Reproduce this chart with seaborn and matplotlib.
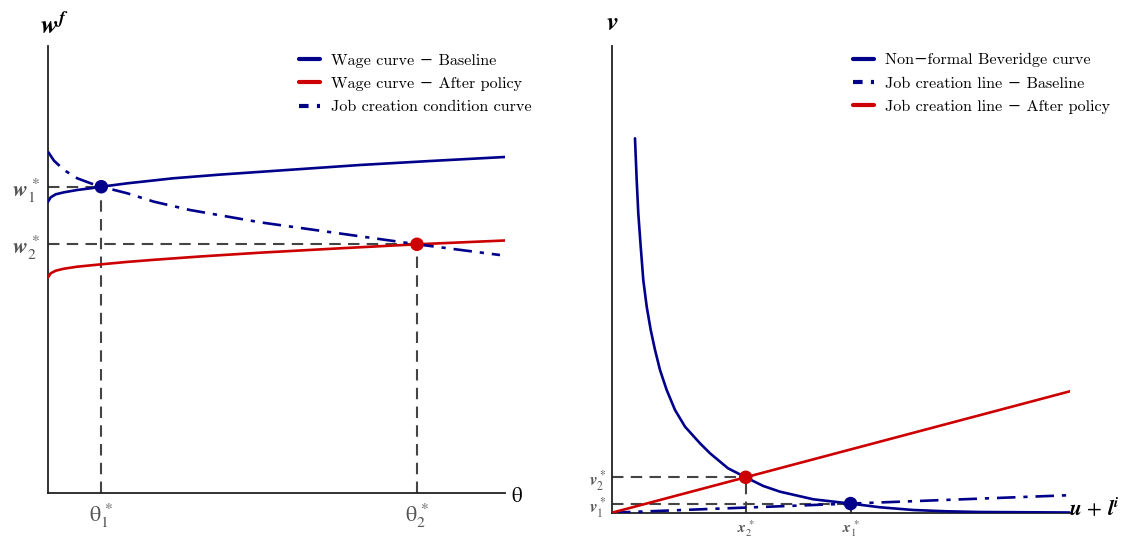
import matplotlib
matplotlib.use("Agg")
import matplotlib.pyplot as plt
from matplotlib.lines import Line2D
import seaborn as sns

# ---------------- data (arbitrary 0-100 units) ----------------
# Left panel: wage curves and job creation condition curve
theta_base = [0, 0.59, 1.68, 3.50, 6.41, 9.34, 11.66, 17.35, 23.19, 27.35, 37.64,
              50.77, 68.27, 83.59, 100]
wage_base = [65.17, 66.15, 66.82, 67.27, 67.79, 68.17, 68.52, 69.28, 69.93, 70.40,
             71.23, 72.15, 73.38, 74.27, 75.17]

theta_after = [0, 0.59, 1.68, 3.50, 6.41, 11.66, 17.35, 23.19, 33.26, 46.39, 63.89,
               80.74, 100]
wage_after = [48.25, 49.15, 49.73, 50.18, 50.63, 51.16, 51.70, 52.17, 52.91, 53.76,
              54.74, 55.64, 56.49]

theta_jc = [0, 1.31, 3.50, 6.41, 9.34, 11.66, 17.35, 23.19, 31.07, 46.39, 61.05,
            80.74, 98.9]
wage_jc = [76.35, 74.34, 72.26, 70.40, 69.28, 68.52, 67.05, 65.17, 63.31, 60.56,
           58.46, 55.64, 53.24]

theta_eq = [11.66, 80.74]
wage_eq = [68.52, 55.64]
theta_ticklabels = [r'$\mathrm{θ}_1^{\,*}$', r'$\mathrm{θ}_2^{\,*}$']
wage_ticklabels = [r'$\mathbfit{w}_1^{\,*}$', r'$\mathbfit{w}_2^{\,*}$']

# Right panel: Beveridge curve and job creation lines
x_bev = [5.02, 5.39, 5.74, 6.27, 6.83, 7.58, 8.45, 9.39, 10.48, 11.94, 13.76, 15.94,
         19.21, 21.40, 25.33, 29.19, 33.03, 36.68, 43.95, 52.1, 58.52, 65.79, 73.08,
         80.35, 100]
v_bev = [80.17, 71.24, 64.11, 56.96, 49.83, 44.11, 39.14, 34.86, 30.56, 26.27, 21.99,
         18.42, 14.86, 12.72, 9.51, 7.58, 5.72, 4.50, 2.87, 1.95, 1.16, 0.58, 0.30,
         0.15, 0.04]
x_line = [0, 100]
v_jc_base = [0, 3.75]
v_jc_after = [0, 26.0]

x_eq = [52.1, 29.19]
v_eq = [1.95, 7.58]
x_ticklabels = [r'$\mathbfit{x}_1^{\,*}$', r'$\mathbfit{x}_2^{\,*}$']
v_ticklabels = [r'$\mathbfit{v}_1^{\,*}$', r'$\mathbfit{v}_2^{\,*}$']

# ---------------- style ----------------
sns.set_theme(style="white")
plt.rcParams['font.family'] = ['cmr10', 'DejaVu Serif']
plt.rcParams['mathtext.fontset'] = 'stix'
plt.rcParams['axes.unicode_minus'] = False

NAVY = '#00008B'
RED = '#CC0000'
GREY = '#444444'
TICKGREY = '#555555'

W, H = 1122, 540
fig = plt.figure(figsize=(W / 100, H / 100), dpi=100)
axL = fig.add_axes([48 / W, (H - 493) / H, 457 / W, 447 / H])
axR = fig.add_axes([612 / W, (H - 512.7) / H, 458 / W, 467 / H])

LW = 1.9
DASHDOT = (0, (7, 3, 1.6, 3))
REFDASH = (0, (5.5, 3.5))
LEGDASH = (0, (2.3, 2.0))

for ax in (axL, axR):
    for s in ('top', 'right'):
        ax.spines[s].set_visible(False)
    for s in ('left', 'bottom'):
        ax.spines[s].set_color('#222222')
        ax.spines[s].set_linewidth(1.3)

# ---------------- left panel ----------------
for t, w in zip(theta_eq, wage_eq):
    axL.plot([0, t], [w, w], color=GREY, lw=1.5, linestyle=REFDASH, zorder=1)
    axL.plot([t, t], [0, w], color=GREY, lw=1.5, linestyle=REFDASH, zorder=1)

sns.lineplot(x=theta_base, y=wage_base, ax=axL, color=NAVY, linewidth=LW,
             sort=False, estimator=None, zorder=3)
sns.lineplot(x=theta_after, y=wage_after, ax=axL, color=RED, linewidth=LW,
             sort=False, estimator=None, zorder=3)
sns.lineplot(x=theta_jc, y=wage_jc, ax=axL, color=NAVY, linewidth=LW,
             sort=False, estimator=None, linestyle=DASHDOT, zorder=3)
sns.scatterplot(x=theta_eq, y=wage_eq, ax=axL, hue=[0, 1], palette=[NAVY, RED],
                s=95, linewidth=0, legend=False, zorder=5)

axL.set_xlim(0, 100)
axL.set_ylim(0, 100)
axL.set_xlabel('')
axL.set_ylabel('')
axL.tick_params(axis='both', length=4, width=1.5, color=GREY, direction='out', pad=2)
axL.set_xticks(theta_eq)
axL.set_xticklabels(theta_ticklabels, fontsize=16, color=TICKGREY)
axL.set_yticks(wage_eq)
axL.set_yticklabels(wage_ticklabels, fontsize=16, color=TICKGREY)

axL.text(0.013, 1.045, r'$\mathbfit{w}^{\mathbfit{f}}$', transform=axL.transAxes,
         fontsize=19, ha='center', va='center', color='black')
axL.text(1.013, -0.009, 'θ', transform=axL.transAxes, fontsize=15,
         ha='left', va='center', color='black', family='STIXGeneral')

hL = [Line2D([], [], color=NAVY, lw=3),
      Line2D([], [], color=RED, lw=3),
      Line2D([], [], color=NAVY, lw=3, linestyle=LEGDASH)]
axL.legend(hL, ['Wage curve − Baseline', 'Wage curve − After policy',
                'Job creation condition curve'],
           loc='upper left', bbox_to_anchor=(0.55, 0.983), frameon=False,
           fontsize=11.6, handlelength=1.3, handletextpad=0.65,
           labelspacing=0.55, borderpad=0, borderaxespad=0, labelcolor='black')

# ---------------- right panel ----------------
for xv, vv in zip(x_eq, v_eq):
    axR.plot([0, xv], [vv, vv], color=GREY, lw=1.5, linestyle=REFDASH, zorder=1)
    axR.plot([xv, xv], [0, vv], color=GREY, lw=1.5, linestyle=REFDASH, zorder=1)

sns.lineplot(x=x_bev, y=v_bev, ax=axR, color=NAVY, linewidth=LW,
             sort=False, estimator=None, zorder=3)
sns.lineplot(x=x_line, y=v_jc_base, ax=axR, color=NAVY, linewidth=LW,
             sort=False, estimator=None, linestyle=DASHDOT, zorder=3)
sns.lineplot(x=x_line, y=v_jc_after, ax=axR, color=RED, linewidth=LW,
             sort=False, estimator=None, zorder=3)
sns.scatterplot(x=x_eq, y=v_eq, ax=axR, hue=[0, 1], palette=[NAVY, RED],
                s=95, linewidth=0, legend=False, zorder=5)

axR.set_xlim(0, 100)
axR.set_ylim(0, 100)
axR.set_xlabel('')
axR.set_ylabel('')
axR.tick_params(axis='both', length=3, width=1.5, color=GREY, direction='out', pad=1)
axR.set_xticks(x_eq)
axR.set_xticklabels(x_ticklabels, fontsize=11, color=TICKGREY)
axR.set_yticks(v_eq)
axR.set_yticklabels(v_ticklabels, fontsize=12, color=TICKGREY)

axR.text(0.0, 1.049, r'$\mathbfit{v}$', transform=axR.transAxes,
         fontsize=19, ha='center', va='center', color='black')
axR.text(1.107, 0.01, r'$\mathbfit{u}\,+\,\mathbfit{l}^{\mathbfit{i}}$',
         transform=axR.transAxes, fontsize=15.5, ha='right', va='center', color='black')

hR = [Line2D([], [], color=NAVY, lw=3),
      Line2D([], [], color=NAVY, lw=3, linestyle=LEGDASH),
      Line2D([], [], color=RED, lw=3)]
axR.legend(hR, ['Non−formal Beveridge curve', 'Job creation line − Baseline',
                'Job creation line − After policy'],
           loc='upper left', bbox_to_anchor=(0.527, 0.984), frameon=False,
           fontsize=11.6, handlelength=1.3, handletextpad=0.65,
           labelspacing=0.55, borderpad=0, borderaxespad=0, labelcolor='black')

fig.savefig('out.png', dpi=100, facecolor='white')
